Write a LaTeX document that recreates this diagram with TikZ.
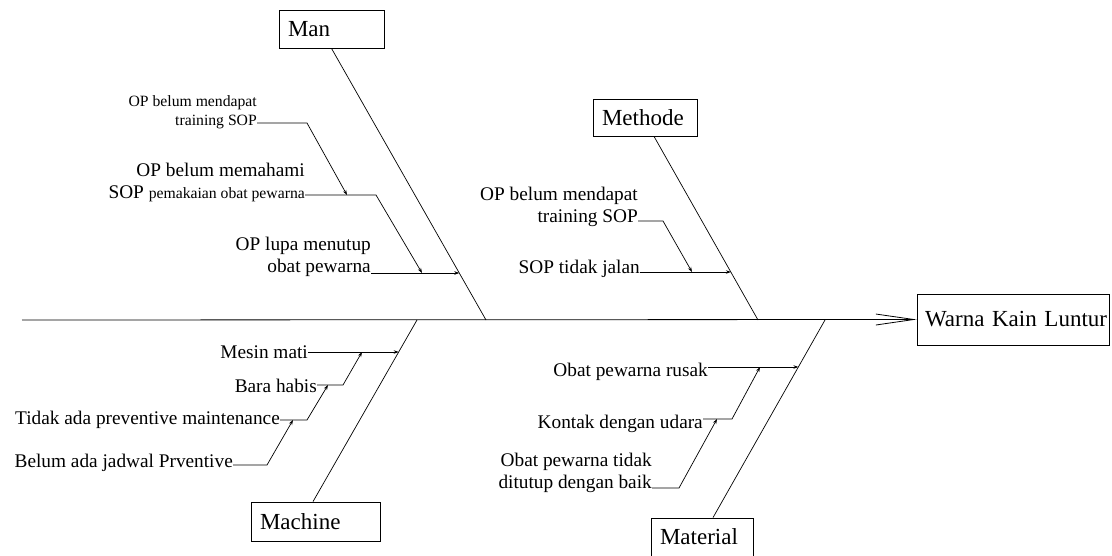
\documentclass[tikz,border=0pt]{standalone}
\usepackage{fontspec}
\setmainfont{Liberation Serif}
\usetikzlibrary{arrows.meta}
\newcommand\fsN{\fontsize{19.3}{22}\selectfont}
\newcommand\fsS{\fontsize{15.7}{19}\selectfont}
\newcommand\fsB{\fontsize{23}{26}\selectfont}
\begin{document}
\begin{tikzpicture}[x=1pt,y=-1pt,
  catbox/.style={draw, line width=0.8pt, inner ysep=0pt, inner xsep=9pt, align=left, font=\fsB},
  lbl/.style={inner sep=0pt, text depth=0pt, anchor=south east, align=right, font=\fsN},
  bone/.style={line width=0.7pt},
  sub/.style={line width=0.7pt, -{Stealth[length=5pt,width=3.5pt]}}]
\useasboundingbox (0,0) rectangle (1112,556);
% category boxes
\node[catbox, text width=87pt, minimum height=38pt] (man) at (331.5,29) {\mbox{Man}};
\node[catbox, text width=86pt, minimum height=37pt] (met) at (645,117.5) {\mbox{Methode}};
\node[catbox, text width=111pt, minimum height=39pt] (mac) at (315.5,521.5) {\mbox{Machine}};
\node[catbox, text width=84pt, minimum height=38pt] (mat) at (702,537) {\mbox{Material}};
\node[catbox, text width=176pt, minimum height=51pt, inner xsep=8pt] (eff) at (1013,319.5) {\mbox{Warna Kain Luntur}};
% spine
\coordinate (sp0) at (22,320);
\draw[line width=0.8pt, -{Straight Barb[length=38pt,width=11pt,line width=0.8pt]}] (sp0) -- (eff.west);
% main bones
\coordinate (manS) at (486,320);
\coordinate (metS) at (758,320);
\coordinate (macS) at (417,320);
\coordinate (matS) at (825,320);
\draw[bone] (man.south) -- (manS);
\draw[bone] ([xshift=9pt]met.south) -- (metS);
\draw[bone] ([xshift=-2.5pt]mac.north) -- (macS);
\draw[bone] ([xshift=11pt]mat.north) -- (matS);
% points on bones
\coordinate (manA) at (459.3,273);
\coordinate (metA) at (730.9,272);
\coordinate (macA) at (398.7,352);
\coordinate (matA) at (798.4,367);
% Man labels
\node[lbl, font=\fsS] (mA1) at (257,126) {OP belum mendapat\\training SOP};
\node[lbl] (mA2) at (305,199) {OP belum memahami\\SOP {\fsS pemakaian obat pewarna}};
\node[lbl] (mA3) at (371,273) {OP lupa menutup\\obat pewarna};
\coordinate (a1k) at (307,123);
\coordinate (a2t) at (347,195);
\coordinate (a2k) at (376,195);
\coordinate (a3t) at (422,273);
\draw[sub] ([yshift=3pt]mA1.south east) -- (a1k) -- (a2t);
\draw[sub] ([yshift=4pt]mA2.south east) -- (a2k) -- (a3t);
\draw[sub] (mA3.south east) -- (manA);
% Methode labels
\node[lbl] (eA1) at (638,223) {OP belum mendapat\\training SOP};
\node[lbl] (eA2) at (640,274) {SOP tidak jalan};
\coordinate (e1k) at (663,221);
\coordinate (e2t) at (692,272);
\draw[sub] ([yshift=2pt]eA1.south east) -- (e1k) -- (e2t);
\draw[sub] ([yshift=2pt]eA2.south east) -- (metA);
% Machine labels
\node[lbl] (cA1) at (308,359) {Mesin mati};
\node[lbl] (cA2) at (317,393) {Bara habis};
\node[lbl] (cA3) at (280,425) {Tidak ada preventive maintenance};
\node[lbl] (cA4) at (233,468) {Belum ada jadwal Prventive};
\coordinate (c2k) at (343,385);
\coordinate (c1t) at (362,352);
\coordinate (c3k) at (307,420);
\coordinate (c2t) at (328,385);
\coordinate (c4k) at (267,465);
\coordinate (c3t) at (293,420);
\draw[sub] ([yshift=7pt]cA1.south east) -- (macA);
\draw[sub] ([yshift=8pt]cA2.south east) -- (c2k) -- (c1t);
\draw[sub] ([yshift=5pt]cA3.south east) -- (c3k) -- (c2t);
\draw[sub] ([yshift=3pt]cA4.south east) -- (c4k) -- (c3t);
% Material labels
\node[lbl] (tA1) at (708,377) {Obat pewarna rusak};
\node[lbl] (tA2) at (703,429) {Kontak dengan udara};
\node[lbl] (tA3) at (652,489) {Obat pewarna tidak\\ditutup dengan baik};
\coordinate (t2k) at (732,419);
\coordinate (t1t) at (760,367);
\coordinate (t3k) at (679,488);
\coordinate (t2t) at (717,419);
\draw[sub] ([yshift=10pt]tA1.south east) -- (matA);
\draw[sub] ([yshift=10pt]tA2.south east) -- (t2k) -- (t1t);
\draw[sub] ([yshift=1pt]tA3.south east) -- (t3k) -- (t2t);
\end{tikzpicture}
\end{document}
